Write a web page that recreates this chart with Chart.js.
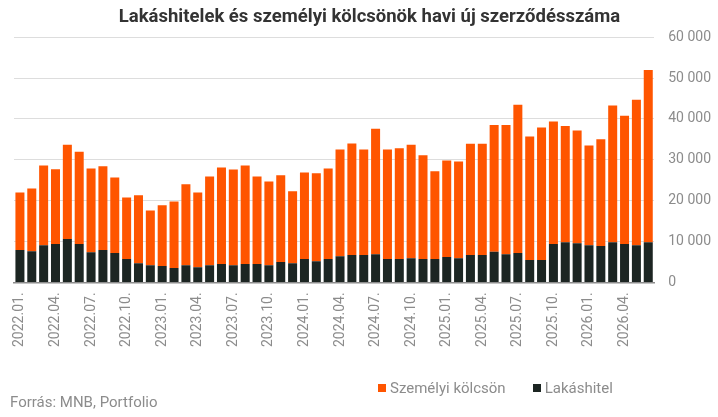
<!DOCTYPE html>
<html>
<head>
<meta charset="utf-8">
<script src="https://cdn.jsdelivr.net/npm/chart.js@4/dist/chart.umd.min.js"></script>
<style>
  body { margin: 0; background: #fff; font-family: Roboto, sans-serif; }
  #wrap { position: relative; width: 718px; height: 417px; }
  #legend { position: absolute; left: 378px; top: 379px; font-size: 15px; color: #8c8c8c; white-space: nowrap; }
  #legend span.item { margin-right: 27px; }
  #legend i { display: inline-block; width: 8px; height: 8px; margin-right: 4px; vertical-align: 1px; }
  #source { position: absolute; left: 10px; top: 393px; font-size: 15px; color: #8c8c8c; }
</style>
</head>
<body>
<div id="wrap">
  <canvas id="chart"></canvas>
  <div id="legend"></div>
  <div id="source">Forrás: MNB, Portfolio</div>
</div>
<script>
const months = [
  "2022.01.", "2022.02.", "2022.03.", "2022.04.", "2022.05.", "2022.06.",
  "2022.07.", "2022.08.", "2022.09.", "2022.10.", "2022.11.", "2022.12.",
  "2023.01.", "2023.02.", "2023.03.", "2023.04.", "2023.05.", "2023.06.",
  "2023.07.", "2023.08.", "2023.09.", "2023.10.", "2023.11.", "2023.12.",
  "2024.01.", "2024.02.", "2024.03.", "2024.04.", "2024.05.", "2024.06.",
  "2024.07.", "2024.08.", "2024.09.", "2024.10.", "2024.11.", "2024.12.",
  "2025.01.", "2025.02.", "2025.03.", "2025.04.", "2025.05.", "2025.06.",
  "2025.07.", "2025.08.", "2025.09.", "2025.10.", "2025.11.", "2025.12.",
  "2026.01.", "2026.02.", "2026.03.", "2026.04.", "2026.05.", "2026.06."
];

// Lakáshitel (bottom of the stack)
const lakashitel = [
  7900, 7600, 9100, 9400, 10600, 9400, 7400, 7900, 7200, 5700,
  4700, 4200, 4000, 3500, 4200, 3700, 4200, 4500, 4200, 4500,
  4500, 4200, 5000, 4700, 5700, 5200, 5700, 6400, 6700, 6700,
  6900, 5700, 5700, 5900, 5700, 5700, 6200, 5900, 6700, 6700,
  7500, 6900, 7200, 5500, 5500, 9400, 9800, 9600, 9100, 8900,
  9800, 9400, 9100, 9800
];

// Személyi kölcsön (stacked on top)
const szemelyi = [
  14100, 15400, 19500, 18300, 23100, 22600, 20500, 20500, 18500, 15100,
  16600, 13400, 14900, 16300, 19800, 18300, 21700, 23600, 23400, 24100,
  21400, 20500, 21200, 17600, 21200, 21500, 22200, 26100, 27300, 25800,
  30700, 26800, 27100, 27800, 25400, 21500, 23600, 23700, 27200, 27200,
  31000, 31600, 36300, 30200, 32400, 30000, 28500, 27600, 24400, 26100,
  33500, 31400, 35600, 42200
];

const yTicks = [0, 10000, 20000, 30000, 40000, 50000, 60000];

const ORANGE = "#ff5500";
const DARK = "#1c2522";
const GREY = "#8c8c8c";

const fmt = v => String(v).replace(/\B(?=(\d{3})+(?!\d))/g, " ");

const chart = new Chart(document.getElementById("chart"), {
  type: "bar",
  data: {
    labels: months,
    datasets: [
      { label: "Lakáshitel", data: lakashitel, backgroundColor: DARK },
      { label: "Személyi kölcsön", data: szemelyi, backgroundColor: ORANGE }
    ]
  },
  options: {
    responsive: true,
    maintainAspectRatio: false,
    animation: false,
    layout: { padding: { left: 14, right: -7, top: 0, bottom: 60 } },
    datasets: { bar: { categoryPercentage: 1, barPercentage: 0.76 } },
    plugins: {
      legend: { display: false },
      tooltip: { enabled: false },
      title: {
        display: true,
        text: "Lakáshitelek és személyi kölcsönök havi új szerződésszáma",
        color: "#333",
        font: { family: "Roboto", size: 18.5, weight: "bold" },
        padding: { top: 6, bottom: 9 }
      }
    },
    scales: {
      x: {
        stacked: true,
        grid: { display: false, drawTicks: false },
        border: { color: GREY, width: 1.5 },
        ticks: {
          autoSkip: false,
          minRotation: 90,
          maxRotation: 90,
          padding: 10,
          color: GREY,
          font: { family: "Roboto", size: 14 },
          callback: (v, i) => (i % 3 === 0 ? months[i] : null)
        }
      },
      y: {
        stacked: true,
        position: "right",
        min: 0,
        max: 60000,
        afterBuildTicks: axis => { axis.ticks = yTicks.map(v => ({ value: v })); },
        grid: { color: "#dddddd", drawTicks: false },
        border: { display: false },
        ticks: {
          padding: 14,
          color: GREY,
          font: { family: "Roboto", size: 14 },
          callback: v => fmt(v)
        }
      }
    }
  }
});

// legend in the reference order
const legend = document.getElementById("legend");
chart.data.datasets.slice().reverse().forEach(ds => {
  const item = document.createElement("span");
  item.className = "item";
  item.innerHTML = `<i style="background:${ds.backgroundColor}"></i>${ds.label}`;
  legend.appendChild(item);
});
</script>
</body>
</html>
